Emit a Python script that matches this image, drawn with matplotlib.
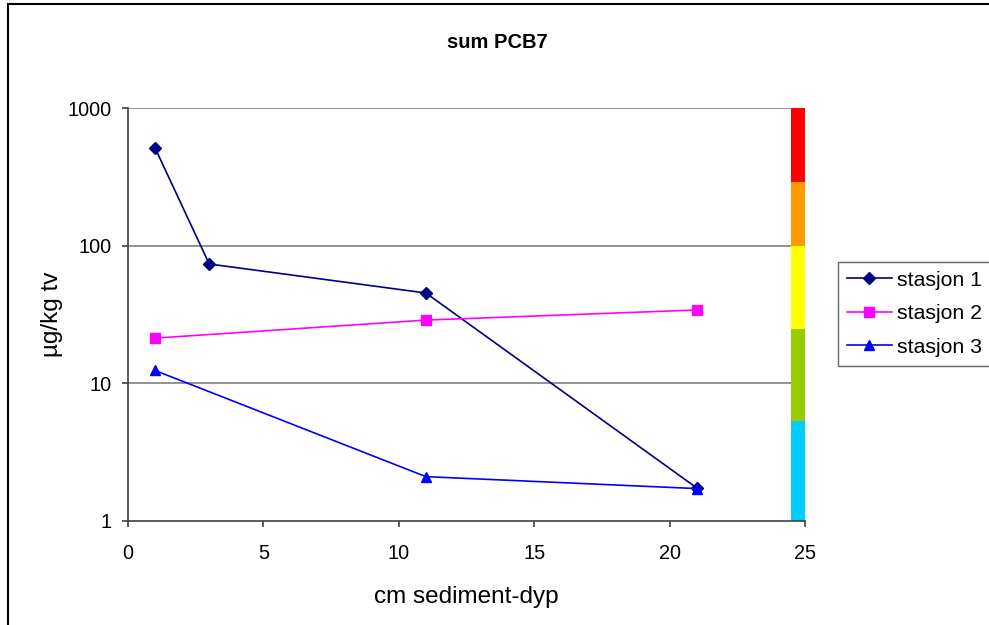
import matplotlib
matplotlib.use("Agg")
import matplotlib.pyplot as plt
from matplotlib.lines import Line2D
from matplotlib.ticker import FixedLocator, FixedFormatter, NullLocator

plt.rcParams['font.family'] = ['Liberation Sans', 'DejaVu Sans']

# depth (cm) and sum PCB7 (ug/kg tv) per station
depth_s1 = [1, 3, 11, 21]
pcb_s1 = [512, 73.6, 45.3, 1.74]
depth_s2 = [1, 11, 21]
pcb_s2 = [21.3, 28.8, 34.1]
depth_s3 = [1, 11, 21]
pcb_s3 = [12.4, 2.10, 1.72]

# classification bands drawn as a colour strip on the right
class_limits = [1, 5.3, 25, 100, 290, 1000]
class_colors = ['#00CCFF', '#99CC00', '#FFFF00', '#FF9900', '#FF0000']
strip_x = 24.75
strip_width = 0.5

y_ticks = [1, 10, 100, 1000]
x_ticks = [0, 5, 10, 15, 20, 25]

fig = plt.figure(figsize=(9.89, 6.25), dpi=100)
ax = fig.add_axes([128 / 989, 1 - 521 / 625, 677 / 989, 413 / 625])

# colour strip
for i, col in enumerate(class_colors):
    lo, hi = class_limits[i], class_limits[i + 1]
    ax.bar(strip_x, hi - lo, bottom=lo, width=strip_width, color=col,
           edgecolor='none', zorder=1)

ax.plot(depth_s1, pcb_s1, color='#000080', lw=1.2, marker='D', ms=6.5,
        label='stasjon 1', zorder=3)
ax.plot(depth_s2, pcb_s2, color='#FF00FF', lw=1.2, marker='s', ms=6.5,
        label='stasjon 2', zorder=3)
ax.plot(depth_s3, pcb_s3, color='#0000FF', lw=1.2, marker='^', ms=7.5,
        label='stasjon 3', zorder=3)

ax.set_yscale('log')
ax.set_ylim(1, 1000)
ax.set_xlim(0, 25)
ax.yaxis.set_major_locator(FixedLocator(y_ticks))
ax.yaxis.set_major_formatter(FixedFormatter([str(t) for t in y_ticks]))
ax.yaxis.set_minor_locator(NullLocator())
ax.set_xticks(x_ticks)

for v in y_ticks[1:]:
    ax.axhline(v, color='#808080', lw=1.2, zorder=0)

for s in ['top', 'right']:
    ax.spines[s].set_visible(False)
for s in ['left', 'bottom']:
    ax.spines[s].set_color('#404040')
    ax.spines[s].set_linewidth(1.2)
ax.tick_params(axis='both', direction='out', length=4.5, width=1.2,
               color='#404040', labelsize=14.3)
ax.tick_params(axis='y', pad=7)
ax.tick_params(axis='x', pad=12)

ax.set_xlabel('cm sediment-dyp', fontsize=17.5)
ax.set_ylabel('µg/kg tv', fontsize=17.5)
ax.xaxis.set_label_coords(0.5, (521 - 586) / 413)
ax.yaxis.set_label_coords((63 - 128) / 677, 0.5)
fig.text(497 / 989, 1 - 42 / 625, 'sum PCB7', ha='center', va='center',
         fontsize=14.5, fontweight='bold')

leg = fig.legend(loc='upper left', bbox_to_anchor=(838 / 989, 1 - 262 / 625),
                 fontsize=15.3, frameon=True, fancybox=False, handlelength=2.1,
                 borderpad=0.42, labelspacing=0.68, handletextpad=0.25,
                 borderaxespad=0)
leg.get_frame().set_edgecolor('#404040')
leg.get_frame().set_linewidth(1.0)

# outer chart border (left and top edges visible)
fig.add_artist(Line2D([7.5 / 989, 7.5 / 989], [0, 1 - 4 / 625],
                      transform=fig.transFigure, color='black', lw=1.5))
fig.add_artist(Line2D([7.5 / 989, 1], [1 - 4 / 625, 1 - 4 / 625],
                      transform=fig.transFigure, color='black', lw=1.5))

fig.savefig('out.png', dpi=100)
